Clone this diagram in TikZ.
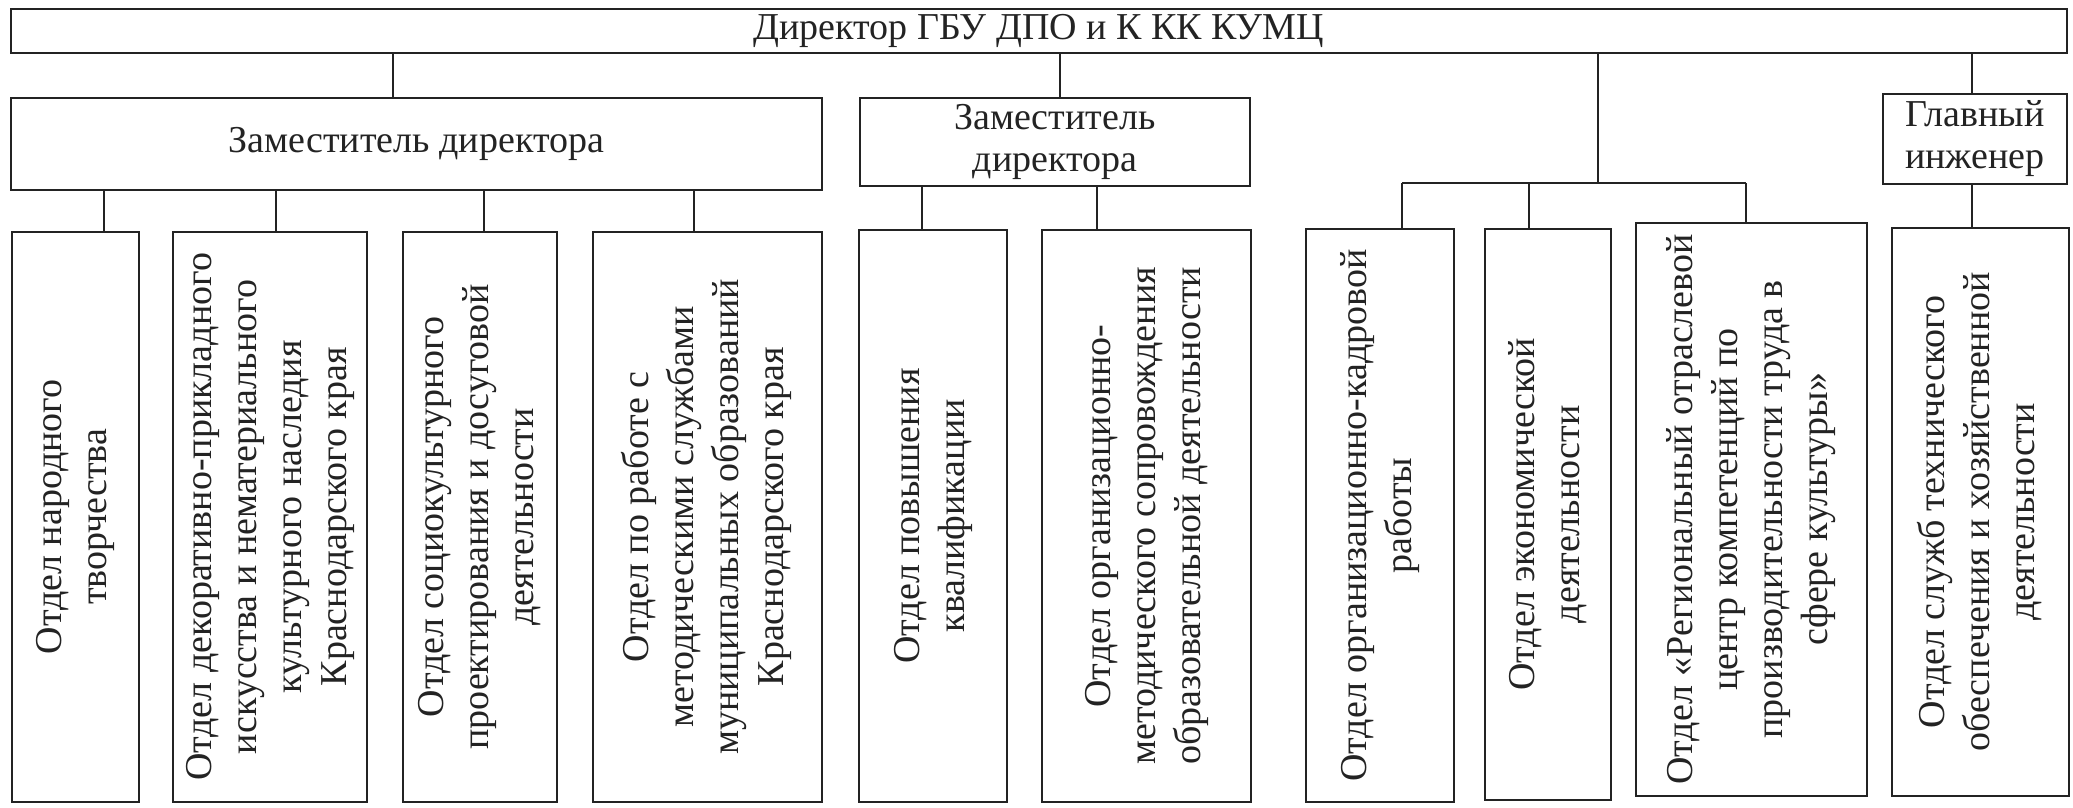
\documentclass[tikz,border=0pt]{standalone}
\usepackage{fontspec}
\setmainfont{Liberation Serif}
\definecolor{ink}{RGB}{35,35,35}
\newcommand{\vtext}[1]{\rotatebox{90}{\begin{tabular}{@{}c@{}}#1\end{tabular}}}
\begin{document}
\begin{tikzpicture}[x=1pt,y=-1pt,
  box/.style={draw=ink, line width=1.8pt, inner sep=0pt, anchor=north west, align=center, text=ink},
  conn/.style={draw=ink, line width=1.6pt},
  every node/.style={font=\fontsize{38}{42}\selectfont}]
\useasboundingbox[fill=white] (0,0) rectangle (2073,808);

% top levels
\node[box, minimum width=2056pt, minimum height=44pt] (top) at (10,8) {Директор ГБУ ДПО и К КК КУМЦ};
\node[box, minimum width=811pt, minimum height=92pt] (zam1) at (10,97) {Заместитель директора};
\node[box, minimum width=390pt, minimum height=88pt] (zam2) at (859,97) {Заместитель\\директора};
\node[box, minimum width=184pt, minimum height=90pt] (glav) at (1882,93) {Главный\\инженер};

% departments
\begin{scope}[every node/.style={font=\fontsize{38}{45}\selectfont}]
\node[box, minimum width=127pt, minimum height=570pt] (b1) at (11,231) {\vtext{Отдел народного\\творчества}};
\node[box, minimum width=194pt, minimum height=570pt] (b2) at (172,231) {\vtext{Отдел декоративно-прикладного\\искусства и нематериального\\культурного наследия\\Краснодарского края}};
\node[box, minimum width=154pt, minimum height=570pt] (b3) at (402,231) {\vtext{Отдел социокультурного\\проектирования и досуговой\\деятельности}};
\node[box, minimum width=229pt, minimum height=570pt] (b4) at (592,231) {\vtext{Отдел по работе с\\методическими службами\\муниципальных образований\\Краснодарского края}};
\node[box, minimum width=148pt, minimum height=572pt] (b5) at (858,229) {\vtext{Отдел повышения\\квалификации}};
\node[box, minimum width=209pt, minimum height=572pt] (b6) at (1041,229) {\vtext{Отдел организационно-\\методического сопровождения\\образовательной деятельности}};
\node[box, minimum width=148pt, minimum height=573pt] (b7) at (1305,228) {\vtext{Отдел организационно-кадровой\\работы}};
\node[box, minimum width=126pt, minimum height=571pt] (b8) at (1484,228) {\vtext{Отдел экономической\\деятельности}};
\node[box, minimum width=231pt, minimum height=573pt] (b9) at (1635,222) {\vtext{Отдел «Региональный отраслевой\\центр компетенций по\\производительности труда в\\сфере культуры»}};
\node[box, minimum width=177pt, minimum height=568pt] (b10) at (1891,227) {\vtext{Отдел служб технического\\обеспечения и хозяйственной\\деятельности}};
\end{scope}

% connector x positions
\coordinate (xz1) at (393,0);
\coordinate (xz2) at (1060,0);
\coordinate (xg) at (1972,0);
\coordinate (x1) at (104,0);
\coordinate (x2) at (276,0);
\coordinate (x3) at (484,0);
\coordinate (x4) at (694,0);
\coordinate (x5) at (922,0);
\coordinate (x6) at (1097,0);
\coordinate (x7) at (1402,0);
\coordinate (x8) at (1529,0);
\coordinate (x9) at (1746,0);
\coordinate (bar) at (1598,183);

\draw[conn] (top.south -| xz1) -- (zam1.north -| xz1);
\draw[conn] (top.south -| xz2) -- (zam2.north -| xz2);
\draw[conn] (top.south -| xg) -- (glav.north -| xg);
\draw[conn] (top.south -| bar) -- (bar);
\draw[conn] (bar -| x7) -- (bar -| x9);

\draw[conn] (zam1.south -| x1) -- (b1.north -| x1);
\draw[conn] (zam1.south -| x2) -- (b2.north -| x2);
\draw[conn] (zam1.south -| x3) -- (b3.north -| x3);
\draw[conn] (zam1.south -| x4) -- (b4.north -| x4);
\draw[conn] (zam2.south -| x5) -- (b5.north -| x5);
\draw[conn] (zam2.south -| x6) -- (b6.north -| x6);
\draw[conn] (bar -| x7) -- (b7.north -| x7);
\draw[conn] (bar -| x8) -- (b8.north -| x8);
\draw[conn] (bar -| x9) -- (b9.north -| x9);
\draw[conn] (glav.south -| xg) -- (b10.north -| xg);
\end{tikzpicture}
\end{document}
